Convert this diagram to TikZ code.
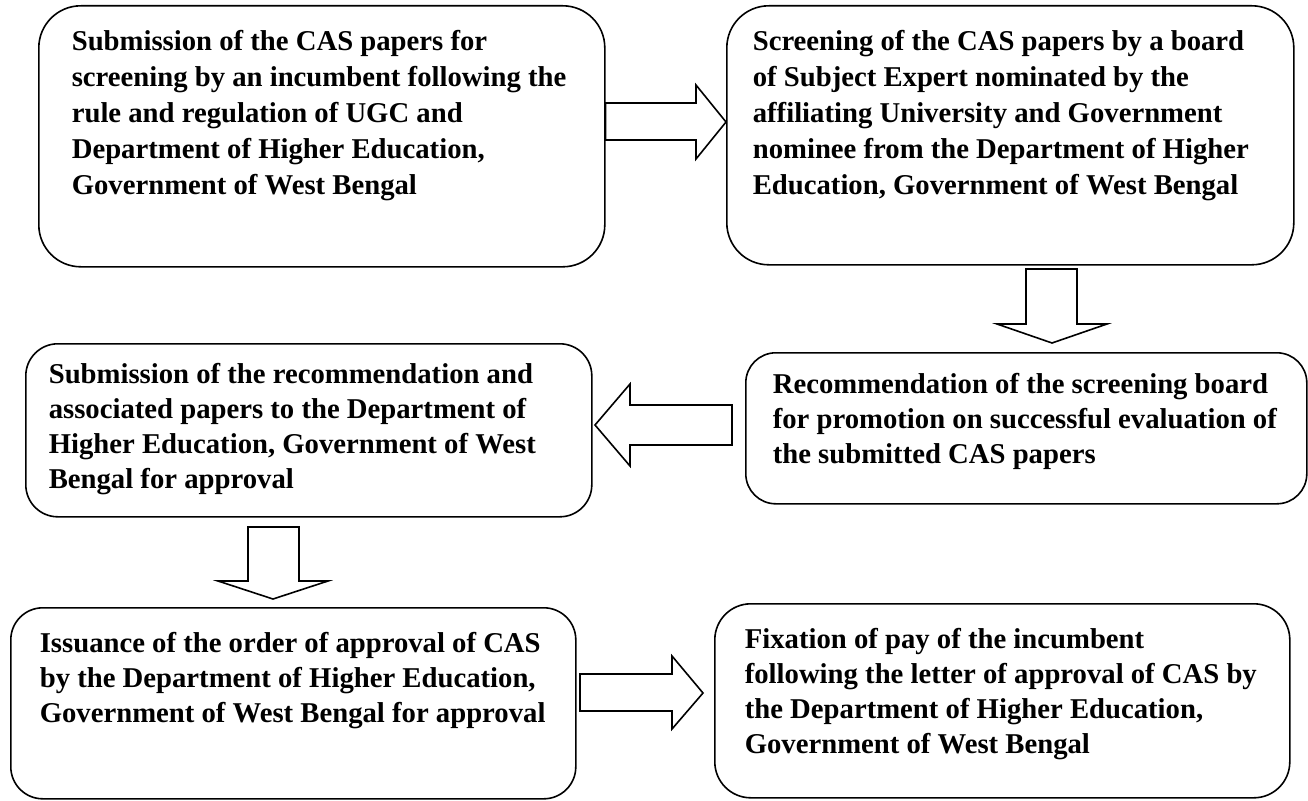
\documentclass[tikz,border=0pt]{standalone}
\usepackage{fontspec}
\setmainfont{Liberation Serif}
\newcommand\boxtext[4][1]{\parbox[b][#2][t]{#3}{\def\arraystretch{#1}\begin{tabular}[t]{@{}l@{}}#4\end{tabular}}}
\tikzset{
  flowbox/.style={draw, line width=1.6pt, anchor=north west, rounded corners=#1,
    font=\fontsize{28.7}{35}\selectfont\bfseries},
  blockarrow/.style={draw, line width=1.6pt, fill=white, line join=miter}
}
\begin{document}
\begin{tikzpicture}[x=1pt,y=-1pt]
\useasboundingbox (0,0) rectangle (1308,800);
% boxes
\node[flowbox=42pt, inner xsep=33pt, inner ysep=19.8pt] (A) at (38,5)
  {\boxtext[1.0286]{221.4pt}{500pt}{Submission of the CAS papers for\\screening by an incumbent following the\\rule and regulation of UGC and\\Department of Higher Education,\\Government of West Bengal}};
\node[flowbox=42pt, inner xsep=26pt, inner ysep=19.8pt] (B) at (726,5)
  {\boxtext[1.0286]{219.4pt}{515pt}{Screening of the CAS papers by a board\\of Subject Expert nominated by the\\affiliating University and Government\\nominee from the Department of Higher\\Education, Government of West Bengal}};
\node[flowbox=30pt, inner xsep=27pt, inner ysep=16.5pt] (C) at (745,352)
  {\boxtext{118pt}{507pt}{Recommendation of the screening board\\for promotion on successful evaluation of\\the submitted CAS papers}};
\node[flowbox=32pt, inner xsep=23pt, inner ysep=15.5pt] (D) at (25,343)
  {\boxtext{142pt}{520pt}{Submission of the recommendation and\\associated papers to the Department of\\Higher Education, Government of West\\Bengal for approval}};
\node[flowbox=32pt, inner xsep=29pt, inner ysep=20.5pt] (E) at (10,607)
  {\boxtext{150pt}{507pt}{Issuance of the order of approval of CAS\\by the Department of Higher Education,\\Government of West Bengal for approval}};
\node[flowbox=36pt, inner xsep=30pt, inner ysep=20.5pt] (F) at (714,603)
  {\boxtext{153pt}{515pt}{Fixation of pay of the incumbent\\following the letter of approval of CAS by\\the Department of Higher Education,\\Government of West Bengal}};
% block arrows
\draw[blockarrow] (A.east |- 0,103) -- (696,103) -- (696,85) -- (B.west |- 0,122) -- (696,159) -- (696,140) -- (A.east |- 0,140) -- cycle;
\draw[blockarrow] (1026,269) -- (1077,269) -- (1077,324) -- (1107,324) -- (1052,343) -- (997,324) -- (1026,324) -- cycle;
\draw[blockarrow] (732,405) -- (630,405) -- (630,384) -- (595,425) -- (630,466) -- (630,445) -- (732,445) -- cycle;
\draw[blockarrow] (248,527) -- (299,527) -- (299,581) -- (328,581) -- (273,599) -- (218,581) -- (248,581) -- cycle;
\draw[blockarrow] (580,674) -- (672,674) -- (672,656) -- (703,693) -- (672,729) -- (672,711) -- (580,711) -- cycle;
\end{tikzpicture}
\end{document}
